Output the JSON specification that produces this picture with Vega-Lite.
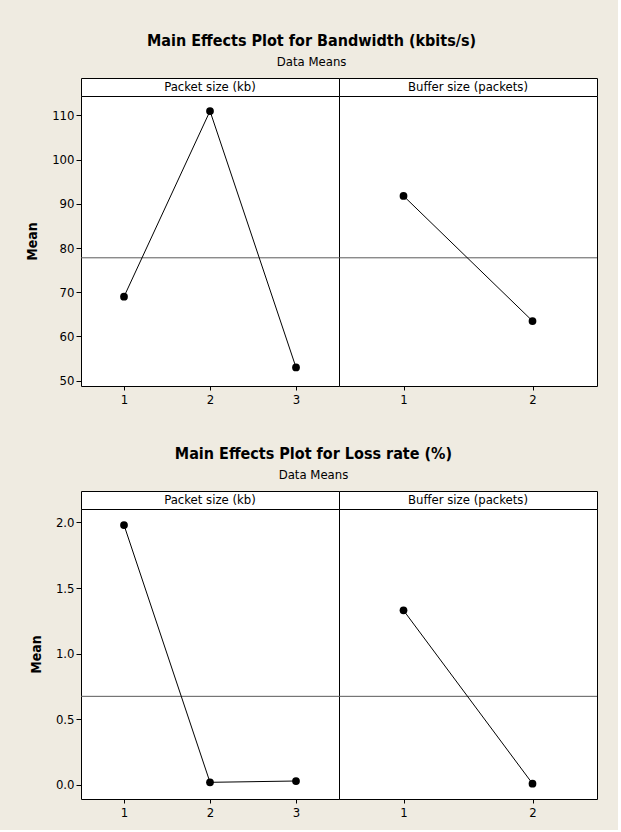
{
  "$schema": "https://vega.github.io/schema/vega-lite/v6.json",
  "background": "#efebe1",
  "padding": {"left": 25, "top": 32, "right": 20, "bottom": 10},
  "datasets": {
    "effects": [
      {"response": "Bandwidth", "factor": "Packet size (kb)", "level": 1, "mean": 69.0},
      {"response": "Bandwidth", "factor": "Packet size (kb)", "level": 2, "mean": 111.0},
      {"response": "Bandwidth", "factor": "Packet size (kb)", "level": 3, "mean": 53.0},
      {"response": "Bandwidth", "factor": "Buffer size (packets)", "level": 1, "mean": 91.8},
      {"response": "Bandwidth", "factor": "Buffer size (packets)", "level": 2, "mean": 63.5},
      {"response": "Loss", "factor": "Packet size (kb)", "level": 1, "mean": 1.98},
      {"response": "Loss", "factor": "Packet size (kb)", "level": 2, "mean": 0.02},
      {"response": "Loss", "factor": "Packet size (kb)", "level": 3, "mean": 0.03},
      {"response": "Loss", "factor": "Buffer size (packets)", "level": 1, "mean": 1.33},
      {"response": "Loss", "factor": "Buffer size (packets)", "level": 2, "mean": 0.01}
    ],
    "grand": [
      {"response": "Bandwidth", "mean": 77.8},
      {"response": "Loss", "mean": 0.675}
    ]
  },
  "config": {
    "font": "DejaVu Sans Condensed, DejaVu Sans",
    "view": {"stroke": "black", "strokeWidth": 1, "fill": "white"},
    "axis": {
      "labelFont": "DejaVu Sans Condensed, DejaVu Sans",
      "labelFontSize": 13,
      "labelColor": "black",
      "tickColor": "black",
      "tickWidth": 1,
      "grid": false,
      "domain": false,
      "titleFont": "DejaVu Sans Condensed, DejaVu Sans",
      "titleFontSize": 14,
      "titleFontWeight": "bold",
      "titleColor": "black"
    },
    "title": {
      "font": "DejaVu Sans Condensed, DejaVu Sans",
      "fontSize": 16,
      "fontWeight": "bold",
      "color": "black",
      "subtitleFont": "DejaVu Sans Condensed, DejaVu Sans",
      "subtitleFontSize": 13,
      "subtitleColor": "black",
      "subtitlePadding": 7,
      "anchor": "middle",
      "offset": 9
    }
  },
  "spacing": 38,
  "align": "none",
  "vconcat": [
    {
      "title": {"text": "Main Effects Plot for Bandwidth (kbits/s)", "subtitle": "Data Means"},
      "columns": 2,
      "spacing": 0,
      "bounds": "flush",
      "concat": [
        {"width": 258, "height": 18, "view": {"stroke": "black", "strokeWidth": 1, "fill": "white"},
         "data": {"values": [{"label": "Packet size (kb)"}]},
         "mark": {"type": "text", "fontSize": 13, "color": "black"},
         "encoding": {"text": {"field": "label", "type": "nominal"}}},
        {"width": 258, "height": 18, "view": {"stroke": "black", "strokeWidth": 1, "fill": "white"},
         "data": {"values": [{"label": "Buffer size (packets)"}]},
         "mark": {"type": "text", "fontSize": 13, "color": "black"},
         "encoding": {"text": {"field": "label", "type": "nominal"}}},
        {
          "width": 258, "height": 290,
          "layer": [
            {"data": {"name": "grand"}, "transform": [{"filter": "datum.response === 'Bandwidth'"}],
             "mark": {"type": "rule", "color": "#5a5a5a", "strokeWidth": 1},
             "encoding": {"y": {"field": "mean", "type": "quantitative",
                     "scale": {"domain": [48.8, 114.4], "nice": false, "zero": false},
                     "axis": {"values": [50, 60, 70, 80, 90, 100, 110], "title": "Mean", "tickSize": 5, "labelPadding": 2, "titlePadding": 12}}}},
            {"data": {"name": "effects"}, "transform": [{"filter": "datum.response === 'Bandwidth' && datum.factor === 'Packet size (kb)'"}],
             "mark": {"type": "line", "color": "black", "strokeWidth": 1, "point": {"filled": true, "color": "black", "size": 60, "opacity": 1}},
             "encoding": {
               "x": {"field": "level", "type": "quantitative",
                     "scale": {"domain": [0.5, 3.5], "nice": false, "zero": false},
                     "axis": {"values": [1, 2, 3], "format": "d", "title": null, "tickSize": 4, "labelPadding": 3}},
               "y": {"field": "mean", "type": "quantitative",
                     "scale": {"domain": [48.8, 114.4], "nice": false, "zero": false},
                     "axis": {"values": [50, 60, 70, 80, 90, 100, 110], "title": "Mean", "tickSize": 5, "labelPadding": 2, "titlePadding": 12}}
             }}
          ]
        },
        {
          "width": 258, "height": 290,
          "layer": [
            {"data": {"name": "grand"}, "transform": [{"filter": "datum.response === 'Bandwidth'"}],
             "mark": {"type": "rule", "color": "#5a5a5a", "strokeWidth": 1},
             "encoding": {"y": {"field": "mean", "type": "quantitative",
                     "scale": {"domain": [48.8, 114.4], "nice": false, "zero": false},
                     "axis": null}}},
            {"data": {"name": "effects"}, "transform": [{"filter": "datum.response === 'Bandwidth' && datum.factor === 'Buffer size (packets)'"}],
             "mark": {"type": "line", "color": "black", "strokeWidth": 1, "point": {"filled": true, "color": "black", "size": 60, "opacity": 1}},
             "encoding": {
               "x": {"field": "level", "type": "quantitative",
                     "scale": {"domain": [0.5, 2.5], "nice": false, "zero": false},
                     "axis": {"values": [1, 2], "format": "d", "title": null, "tickSize": 4, "labelPadding": 3}},
               "y": {"field": "mean", "type": "quantitative",
                     "scale": {"domain": [48.8, 114.4], "nice": false, "zero": false},
                     "axis": null}
             }}
          ]
        }
      ]
    },
    {
      "title": {"text": "Main Effects Plot for Loss rate (%)", "subtitle": "Data Means"},
      "columns": 2,
      "spacing": 0,
      "bounds": "flush",
      "concat": [
        {"width": 258, "height": 18, "view": {"stroke": "black", "strokeWidth": 1, "fill": "white"},
         "data": {"values": [{"label": "Packet size (kb)"}]},
         "mark": {"type": "text", "fontSize": 13, "color": "black"},
         "encoding": {"text": {"field": "label", "type": "nominal"}}},
        {"width": 258, "height": 18, "view": {"stroke": "black", "strokeWidth": 1, "fill": "white"},
         "data": {"values": [{"label": "Buffer size (packets)"}]},
         "mark": {"type": "text", "fontSize": 13, "color": "black"},
         "encoding": {"text": {"field": "label", "type": "nominal"}}},
        {
          "width": 258, "height": 290,
          "layer": [
            {"data": {"name": "grand"}, "transform": [{"filter": "datum.response === 'Loss'"}],
             "mark": {"type": "rule", "color": "#5a5a5a", "strokeWidth": 1},
             "encoding": {"y": {"field": "mean", "type": "quantitative",
                     "scale": {"domain": [-0.107, 2.102], "nice": false, "zero": false},
                     "axis": {"values": [0, 0.5, 1, 1.5, 2], "format": ".1f", "title": "Mean", "tickSize": 5, "labelPadding": 2, "titlePadding": 12}}}},
            {"data": {"name": "effects"}, "transform": [{"filter": "datum.response === 'Loss' && datum.factor === 'Packet size (kb)'"}],
             "mark": {"type": "line", "color": "black", "strokeWidth": 1, "point": {"filled": true, "color": "black", "size": 60, "opacity": 1}},
             "encoding": {
               "x": {"field": "level", "type": "quantitative",
                     "scale": {"domain": [0.5, 3.5], "nice": false, "zero": false},
                     "axis": {"values": [1, 2, 3], "format": "d", "title": null, "tickSize": 4, "labelPadding": 3}},
               "y": {"field": "mean", "type": "quantitative",
                     "scale": {"domain": [-0.107, 2.102], "nice": false, "zero": false},
                     "axis": {"values": [0, 0.5, 1, 1.5, 2], "format": ".1f", "title": "Mean", "tickSize": 5, "labelPadding": 2, "titlePadding": 12}}
             }}
          ]
        },
        {
          "width": 258, "height": 290,
          "layer": [
            {"data": {"name": "grand"}, "transform": [{"filter": "datum.response === 'Loss'"}],
             "mark": {"type": "rule", "color": "#5a5a5a", "strokeWidth": 1},
             "encoding": {"y": {"field": "mean", "type": "quantitative",
                     "scale": {"domain": [-0.107, 2.102], "nice": false, "zero": false},
                     "axis": null}}},
            {"data": {"name": "effects"}, "transform": [{"filter": "datum.response === 'Loss' && datum.factor === 'Buffer size (packets)'"}],
             "mark": {"type": "line", "color": "black", "strokeWidth": 1, "point": {"filled": true, "color": "black", "size": 60, "opacity": 1}},
             "encoding": {
               "x": {"field": "level", "type": "quantitative",
                     "scale": {"domain": [0.5, 2.5], "nice": false, "zero": false},
                     "axis": {"values": [1, 2], "format": "d", "title": null, "tickSize": 4, "labelPadding": 3}},
               "y": {"field": "mean", "type": "quantitative",
                     "scale": {"domain": [-0.107, 2.102], "nice": false, "zero": false},
                     "axis": null}
             }}
          ]
        }
      ]
    }
  ]
}
